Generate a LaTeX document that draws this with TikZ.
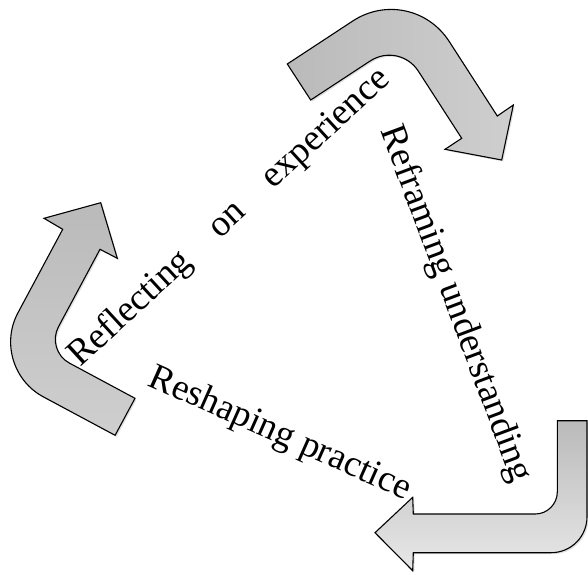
\documentclass[tikz,border=0pt]{standalone}
\usepackage{fontspec}
\setmainfont{Liberation Serif}
\usetikzlibrary{
    calc,
    shadows
}

\definecolor{arrowdark}{gray}{0.73}
\definecolor{arrowmid}{gray}{0.81}
\definecolor{arrowlight}{gray}{0.91}

\begin{document}
\begin{tikzpicture}[x=1pt,y=-1pt,
    cyclearrow/.style={draw=black, line width=1.1pt, line join=miter,
        drop shadow={opacity=0.25, shadow xshift=1.5pt, shadow yshift=-1.5pt}},
    steplabel/.style={inner sep=0pt, anchor=base west,
        font=\fontsize{37}{40}\selectfont}]

\useasboundingbox (0,0) rectangle (588,574);

% Top arrow
\coordinate (t1) at (287.3,64);
\coordinate (t2) at (411.2,-17.4);
\coordinate (t3) at (497.3,116);
\coordinate (t4) at (513.3,105);
\coordinate (t5) at (501.7,160);
\coordinate (t6) at (445,149.3);
\coordinate (t7) at (461.7,138.3);
\coordinate (t8) at (399.4,41.8);
\coordinate (t9) at (310.7,100);
\path[cyclearrow, left color=arrowdark, right color=arrowmid]
(t1) --
($(t2)!70pt!(t1)$) .. controls ($(t2)!31pt!(t1)$) and ($(t2)!31pt!(t3)$) ..
($(t2)!70pt!(t3)$) --
(t3) -- (t4) -- (t5) -- (t6) -- (t7) --
($(t8)!35pt!(t7)$) .. controls ($(t8)!15.5pt!(t7)$) and ($(t8)!15.5pt!(t9)$) ..
($(t8)!35pt!(t9)$) --
(t9) -- cycle;

% Left arrow
\coordinate (l1) at (135,398.3);
\coordinate (l2) at (45.8,350.4);
\coordinate (l3) at (100,249.3);
\coordinate (l4) at (117.3,258.3);
\coordinate (l5) at (100.7,202.7);
\coordinate (l6) at (44,218.3);
\coordinate (l7) at (62.7,229.3);
\coordinate (l8) at (-11.4,367.5);
\coordinate (l9) at (115.1,435.3);
\path[cyclearrow, top color=arrowdark, bottom color=arrowmid]
(l1) --
($(l2)!27pt!(l1)$) .. controls ($(l2)!12pt!(l1)$) and ($(l2)!12pt!(l3)$) ..
($(l2)!27pt!(l3)$) --
(l3) -- (l4) -- (l5) -- (l6) -- (l7) --
($(l8)!62pt!(l7)$) .. controls ($(l8)!28pt!(l7)$) and ($(l8)!28pt!(l9)$) ..
($(l8)!62pt!(l9)$) --
(l9) -- cycle;

% Bottom arrow
\coordinate (b1) at (557.3,420.7);
\coordinate (b2) at (557.3,514);
\coordinate (b3) at (413.3,514);
\coordinate (b4) at (412.7,497.3);
\coordinate (b5) at (375,532.7);
\coordinate (b6) at (412.7,570.7);
\coordinate (b7) at (413.3,552.7);
\coordinate (b8) at (587,552.7);
\coordinate (b9) at (587,420.7);
\path[cyclearrow, top color=arrowdark, bottom color=arrowlight]
(b1) --
($(b2)!22pt!(b1)$) .. controls ($(b2)!10pt!(b1)$) and ($(b2)!10pt!(b3)$) ..
($(b2)!22pt!(b3)$) --
(b3) -- (b4) -- (b5) -- (b6) -- (b7) --
($(b8)!36pt!(b7)$) .. controls ($(b8)!16pt!(b7)$) and ($(b8)!16pt!(b9)$) ..
($(b8)!36pt!(b9)$) --
(b9) -- cycle;

% Labels
\node[steplabel, rotate=42.6] (reflect) at (80,368)
    {Reflecting\hspace{36pt}on\hspace{36pt}experience};
\node[steplabel, rotate=-69.5] (reframe) at (380.5,130.5)
    {Reframing understanding};
\node[steplabel, rotate=-24] (reshape) at (146.7,385)
    {Reshaping practice};

\end{tikzpicture}
\end{document}
